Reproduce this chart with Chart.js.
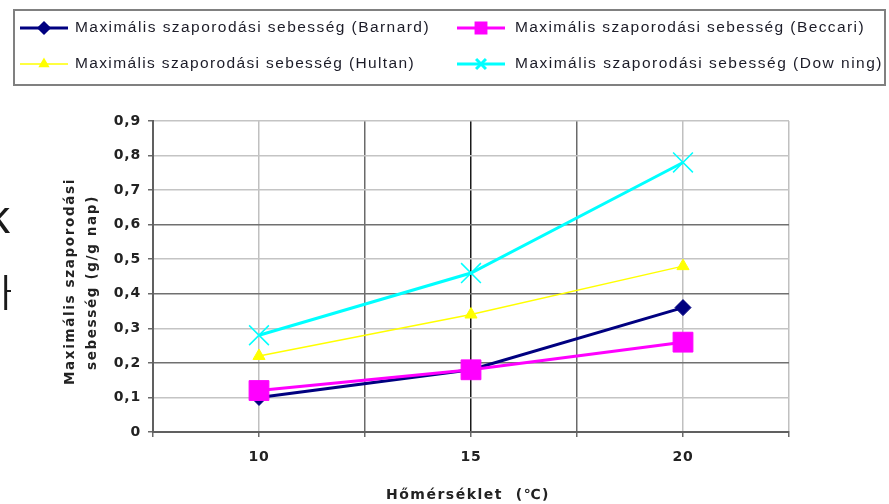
<!DOCTYPE html>
<html>
<head>
<meta charset="utf-8">
<script src="https://cdn.jsdelivr.net/npm/chart.js@4.4.0/dist/chart.umd.min.js"></script>
<style>
html, body { margin: 0; padding: 0; background: #fff; }
</style>
</head>
<body>
<canvas id="graph" width="889" height="504"></canvas>
<script>
// values
const temperatures = [10, 15, 20];
const barnard = [0.10, 0.18, 0.36];
const beccari = [0.12, 0.18, 0.26];
const hultan = [0.22, 0.34, 0.48];
const downing = [0.28, 0.46, 0.78];

const seriesNames = [
    'Maximális szaporodási sebesség (Barnard)',
    'Maximális szaporodási sebesség (Beccari)',
    'Maximális szaporodási sebesség (Hultan)',
    'Maximális szaporodási sebesség (Dow ning)'
];
const xTitle = 'Hőmérséklet  (℃)';
const yTitle = ['Maximális szaporodási', 'sebesség (g/g nap)'];

function points(values) {
    return temperatures.map(function (t, i) { return { x: t, y: values[i] }; });
}

function fitText(ctx, text, x, y, width) {
    ctx.letterSpacing = '0px';
    const w = ctx.measureText(text).width;
    const sp = Math.max(0, (width - w) / text.length);
    ctx.letterSpacing = sp + 'px';
    ctx.textAlign = 'left';
    ctx.fillText(text, x, y, width);
    ctx.letterSpacing = '0px';
}

const extras = {
    id: 'extras',
    beforeDraw: function (chart) {
        chart.ctx.letterSpacing = '0.8px';
    },
    afterDraw: function (chart) {
        const ctx = chart.ctx;
        const ds = chart.data.datasets;
        ctx.save();

        // legend box
        ctx.strokeStyle = '#808080';
        ctx.lineWidth = 2;
        ctx.strokeRect(14, 10, 871, 75);

        const items = [
            { d: ds[0], lx: 20, tx: 75, y: 28, tw: 355, r: 5 },
            { d: ds[1], lx: 457, tx: 515, y: 28, tw: 350, r: 7 },
            { d: ds[2], lx: 20, tx: 75, y: 64, tw: 340, r: 5 },
            { d: ds[3], lx: 457, tx: 515, y: 64, tw: 368, r: 7 }
        ];
        items.forEach(function (it, i) {
            ctx.strokeStyle = it.d.borderColor;
            ctx.lineWidth = it.d.borderWidth;
            ctx.beginPath();
            ctx.moveTo(it.lx, it.y);
            ctx.lineTo(it.lx + 48, it.y);
            ctx.stroke();
            ctx.fillStyle = it.d.borderColor;
            Chart.helpers.drawPoint(ctx, {
                pointStyle: it.d.pointStyle, radius: it.r, rotation: 0, borderWidth: 1.5
            }, it.lx + 24, it.y);
            ctx.fillStyle = '#1c1c28';
            ctx.font = '15.5px "Liberation Sans", Arial, sans-serif';
            ctx.textBaseline = 'middle';
            fitText(ctx, seriesNames[i], it.tx, it.y, it.tw);
        });

        // axis titles
        ctx.fillStyle = '#222';
        ctx.font = 'bold 14px "DejaVu Sans", sans-serif';
        ctx.textBaseline = 'middle';
        fitText(ctx, xTitle, 386, 495, 164);

        ctx.font = 'bold 13.5px "DejaVu Sans", sans-serif';
        ctx.save();
        ctx.translate(70, 385);
        ctx.rotate(-Math.PI / 2);
        fitText(ctx, yTitle[0], 0, 0, 207);
        ctx.restore();
        ctx.save();
        ctx.translate(92, 370);
        ctx.rotate(-Math.PI / 2);
        fitText(ctx, yTitle[1], 0, 0, 175);
        ctx.restore();

        // cut-off text at the left edge
        ctx.fillStyle = '#1a1a1a';
        ctx.font = '46px "Liberation Sans", Arial, sans-serif';
        ctx.textBaseline = 'alphabetic';
        ctx.fillText('k', -13, 233);
        ctx.font = '36px "Liberation Sans", Arial, sans-serif';
        ctx.fillText('|', 1, 302);
        ctx.fillRect(7, 290, 4, 2);

        ctx.restore();
    }
};

function yGridColor(c) {
    const v = Math.round(c.tick.value * 10);
    return [0, 2, 4, 6].includes(v) ? '#707070' : '#c4c4c4';
}
function xGridColor(c) {
    const v = c.tick.value;
    if (v === 15) return '#1a1a1a';
    if (v === 7.5 || v === 12.5 || v === 17.5) return '#6a6a6a';
    return '#c0c0c0';
}

const tickFont = { family: '"DejaVu Sans", sans-serif', size: 14, weight: 'bold' };

new Chart(document.getElementById('graph'), {
    type: 'line',
    data: {
        datasets: [
            {
                label: seriesNames[0],
                data: points(barnard),
                borderColor: '#000080',
                backgroundColor: '#000080',
                borderWidth: 3,
                pointStyle: 'rectRot',
                pointRadius: 8,
                pointBorderWidth: 1,
                order: 1
            },
            {
                label: seriesNames[1],
                data: points(beccari),
                borderColor: '#ff00ff',
                backgroundColor: '#ff00ff',
                borderWidth: 3,
                pointStyle: 'rect',
                pointRadius: 14,
                pointBorderWidth: 1,
                order: 0
            },
            {
                label: seriesNames[2],
                data: points(hultan),
                borderColor: '#ffff00',
                backgroundColor: '#ffff00',
                borderWidth: 1.5,
                pointStyle: 'triangle',
                pointRadius: 7,
                pointBorderWidth: 1,
                order: 2
            },
            {
                label: seriesNames[3],
                data: points(downing),
                borderColor: '#00ffff',
                backgroundColor: '#00ffff',
                borderWidth: 3,
                pointStyle: 'crossRot',
                pointRadius: 14,
                pointBorderWidth: 1.5,
                order: 3
            }
        ]
    },
    options: {
        responsive: false,
        animation: false,
        devicePixelRatio: 1,
        layout: { padding: { top: 121, right: 100, left: 0, bottom: 0 } },
        plugins: {
            legend: { display: false },
            tooltip: { enabled: false }
        },
        scales: {
            x: {
                type: 'linear',
                min: 7.5,
                max: 22.5,
                afterFit: function (scale) { scale.height = 72; },
                ticks: {
                    stepSize: 2.5,
                    autoSkip: false,
                    maxRotation: 0,
                    padding: 12,
                    color: '#222',
                    font: tickFont,
                    callback: function (v) { return temperatures.includes(v) ? String(v) : ''; }
                },
                grid: {
                    color: xGridColor,
                    lineWidth: 1.5,
                    tickLength: 5,
                    tickColor: '#6a6a6a'
                },
                border: { color: '#606060', width: 2 }
            },
            y: {
                min: 0,
                max: 0.9,
                afterFit: function (scale) { scale.width = 153; },
                ticks: {
                    stepSize: 0.1,
                    padding: 7,
                    color: '#222',
                    font: tickFont,
                    callback: function (v) {
                        return String(Math.round(v * 10) / 10).replace('.', ',');
                    }
                },
                grid: {
                    color: yGridColor,
                    lineWidth: 1.5,
                    tickLength: 5,
                    tickColor: '#6a6a6a'
                },
                border: { color: '#606060', width: 2 }
            }
        }
    },
    plugins: [extras]
});
</script>
</body>
</html>
